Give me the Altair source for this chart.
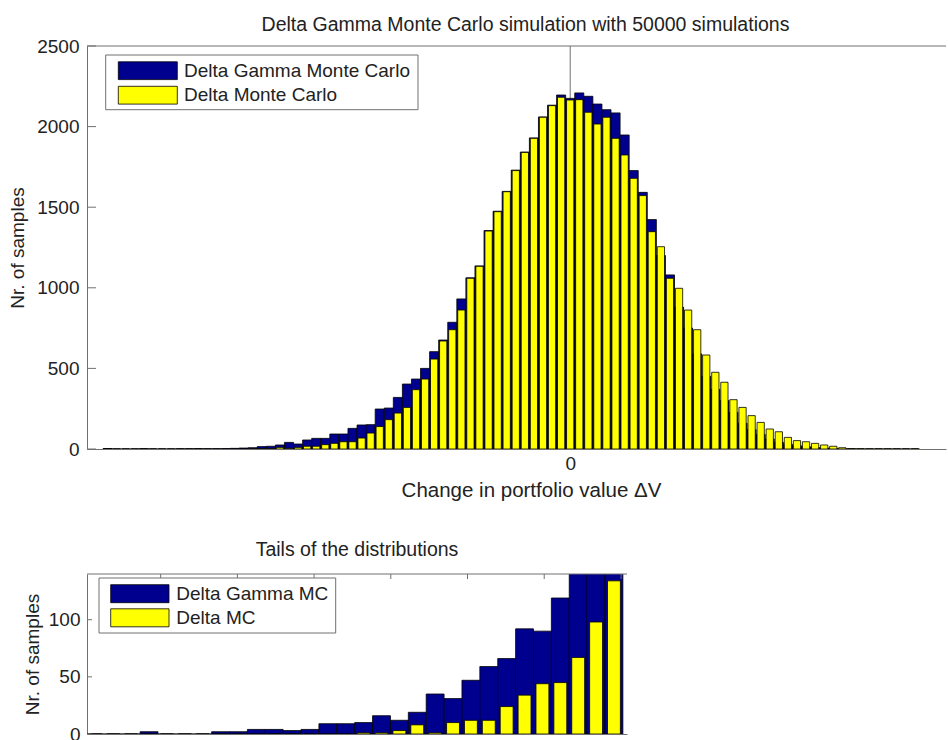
import altair as alt
import pandas as pd

# ---------------- data ----------------
series_names = ["Delta Gamma Monte Carlo", "Delta Monte Carlo"]
tail_series_names = ["Delta Gamma MC", "Delta MC"]
series_colors = ["#00008f", "#ffff00"]

# main histogram: bin index (0 = bin around zero change)
main_bins = list(range(-51, 39))
main_delta_gamma = [
    3, 0, 0, 0, 2, 0, 0, 0, 1, 1,
    2, 1, 1, 2, 4, 6, 8, 15, 17, 25,
    41, 31, 56, 66, 66, 93, 93, 128, 149, 151,
    248, 254, 320, 403, 434, 500, 604, 676, 786, 931,
    1062, 1136, 1355, 1475, 1598, 1730, 1842, 1930, 2060, 2133,
    2196, 2175, 2209, 2188, 2140, 2105, 2085, 1948, 1727, 1592,
    1423, 1200, 1080, 880, 750, 590, 450, 370, 300, 227,
    160, 120, 90, 62, 42, 30, 20, 14, 9, 6,
    4, 2, 1, 0, 0, 0, 0, 0, 0, 0,
]
main_delta = [
    0, 0, 0, 0, 0, 0, 0, 0, 0, 0,
    0, 0, 0, 0, 0, 0, 1, 2, 3, 10,
    4, 10, 17, 17, 27, 35, 45, 45, 68, 99,
    139, 182, 223, 258, 368, 434, 558, 670, 740, 862,
    1059, 1133, 1352, 1472, 1596, 1727, 1840, 1927, 2058, 2130,
    2182, 2165, 2167, 2089, 2016, 2058, 1927, 1824, 1679, 1572,
    1348, 1255, 1059, 997, 862, 740, 583, 476, 414, 306,
    258, 207, 165, 124, 107, 72, 52, 45, 35, 25,
    17, 8, 3, 2, 1, 1, 1, 1, 0, 1,
]
main_y_ticks = [0, 500, 1000, 1500, 2000, 2500]
main_x_ticks = [0]
main_x_domain = [-53.27, 41.43]
main_y_domain = [0, 2500]

# tail histogram
tail_bins = list(range(-4, 27))
tail_delta_gamma = [1, 0, 0, 0, 2, 0, 0, 0, 2, 2, 4, 4, 3, 4, 9, 9, 10, 16, 12, 19,
                    35, 31, 47, 59, 66, 92, 90, 119, 152, 178, 214]
tail_delta = [0, 0, 0, 0, 0, 0, 0, 0, 0, 0, 0, 0, 0, 0, 0, 0, 1, 1, 3, 8,
              1, 10, 12, 12, 24, 34, 44, 45, 67, 98, 134]
tail_y_ticks = [0, 50, 100]
tail_x_ticks = [0.65, 4.94, 9.23, 13.52, 17.81, 22.1, 26.4]
tail_x_domain = [-3.47, 26.73]
tail_y_domain = [0, 140]

FONT = "Liberation Sans"
FS = 19
TXT = "#222222"
FRAME = "#707070"


def hist_frame(bins, counts, name, half):
    return pd.DataFrame({
        "x0": [b - half for b in bins],
        "x1": [b + half for b in bins],
        "count": counts,
        "base": [0] * len(bins),
        "series": [name] * len(bins),
    })


def panel(bins, dg, d, names, x_dom, y_dom, y_ticks, x_axis, y_axis, W, H,
          yellow_half, legend_geom, top_ticks, zero_rule, ytick_len):
    xs = alt.Scale(domain=x_dom, nice=False, zero=False)
    ys = alt.Scale(domain=y_dom, nice=False, zero=False)
    cs = alt.Scale(domain=names, range=series_colors)

    dg_df = hist_frame(bins, dg, names[0], 0.5)
    d_df = hist_frame(bins, d, names[1], yellow_half)

    layers = []
    if zero_rule:
        layers.append(
            alt.Chart(pd.DataFrame({"v": main_x_ticks})).mark_rule(color=FRAME, strokeWidth=1).encode(
                x=alt.X("v:Q", scale=xs, axis=x_axis), y=alt.value(0), y2=alt.value(H)))

    def bar_layer(df):
        return alt.Chart(df).mark_rect(stroke="black", strokeWidth=0.8, clip=True).encode(
            x=alt.X("x0:Q", scale=xs, axis=x_axis),
            x2="x1:Q",
            y=alt.Y("count:Q", scale=ys, axis=y_axis),
            y2="base:Q",
            fill=alt.Fill("series:N", scale=cs, legend=None),
        )

    layers.append(bar_layer(dg_df))
    layers.append(bar_layer(d_df))

    # inward y ticks
    layers.append(alt.Chart(pd.DataFrame({"v": y_ticks})).mark_rule(color=FRAME, strokeWidth=1).encode(
        y=alt.Y("v:Q", scale=ys, axis=y_axis), x=alt.value(0), x2=alt.value(ytick_len)))
    # inward top x ticks
    if top_ticks is not None:
        layers.append(alt.Chart(pd.DataFrame({"v": top_ticks})).mark_rule(color=FRAME, strokeWidth=1).encode(
            x=alt.X("v:Q", scale=xs, axis=x_axis), y=alt.value(0), y2=alt.value(5)))
    # top frame line
    layers.append(alt.Chart(pd.DataFrame({"v": [0]})).mark_rule(color=FRAME, strokeWidth=1).encode(
        x=alt.value(0), x2=alt.value(W), y=alt.value(0)))

    # legend
    bx0, bx1, by0, by1, sx0, sx1, rows, rh, tx = legend_geom
    layers.append(alt.Chart(pd.DataFrame({"v": [0]})).mark_rect(fill="white", stroke=FRAME, strokeWidth=1).encode(
        x=alt.value(bx0), x2=alt.value(bx1), y=alt.value(by0), y2=alt.value(by1)))
    for i, nm in enumerate(names):
        ldf = pd.DataFrame({"series": [nm]})
        cy = rows[i]
        layers.append(alt.Chart(ldf).mark_rect(stroke="black", strokeWidth=0.8).encode(
            x=alt.value(sx0), x2=alt.value(sx1), y=alt.value(cy - rh / 2), y2=alt.value(cy + rh / 2),
            fill=alt.Fill("series:N", scale=cs, legend=None)))
        layers.append(alt.Chart(ldf).mark_text(align="left", baseline="middle", fontSize=FS, font=FONT,
                                               color=TXT).encode(
            x=alt.value(tx), y=alt.value(cy), text="series:N"))
    return alt.layer(*layers).properties(width=W, height=H)


main_x_axis = alt.Axis(values=main_x_ticks, format="d", ticks=False, grid=False, labelPadding=5,
                       title="Change in portfolio value \u0394V", titleX=444, titleY=47,
                       titleBaseline="alphabetic", titleAlign="center", titleFontSize=20.5)
main_y_axis = alt.Axis(values=main_y_ticks, format="d", ticks=False, grid=False, labelPadding=8,
                       title="Nr. of samples", titleX=-70, titleBaseline="middle")

tail_x_axis = alt.Axis(labels=False, ticks=False, grid=False, title=None)
tail_y_axis = alt.Axis(values=tail_y_ticks, format="d", ticks=False, grid=False, labelPadding=7,
                       title="Nr. of samples", titleX=-55, titleBaseline="middle")

top = panel(main_bins, main_delta_gamma, main_delta, series_names, main_x_domain, main_y_domain,
            main_y_ticks, main_x_axis, main_y_axis, 859, 403, 0.4,
            (18.7, 331, 9, 63.7, 31.3, 90.3, [24.7, 49.2], 17.8, 97), None, True, 9).properties(
    title=alt.Title("Delta Gamma Monte Carlo simulation with 50000 simulations", offset=-13, dx=9,
                    fontSize=19.5, baseline="alphabetic", frame="group", anchor="middle"))

bottom = panel(tail_bins, tail_delta_gamma, tail_delta, tail_series_names, tail_x_domain, tail_y_domain,
               tail_y_ticks, tail_x_axis, tail_y_axis, 540, 160, 0.36,
               (12, 248.7, 4, 59, 23.7, 82, [19.7, 43.8], 18, 89.3), tail_x_ticks, False, 5).properties(
    title=alt.Title("Tails of the distributions", offset=-2, fontSize=19.5, baseline="alphabetic",
                    frame="group", anchor="middle"))

chart = alt.vconcat(top, bottom, spacing=125, bounds="flush").properties(
    padding={"left": 8, "top": 14, "right": 0, "bottom": 0}
).configure_view(stroke=None).configure_axis(
    domainColor=FRAME, domainWidth=1, labelFont=FONT, labelFontSize=FS, labelColor=TXT,
    titleFont=FONT, titleFontSize=FS, titleColor=TXT, titleFontWeight="normal"
).configure_title(
    font=FONT, fontSize=FS, color=TXT, fontWeight="normal"
)

chart.save("out.html", embed_options={"renderer": "svg", "actions": False})
